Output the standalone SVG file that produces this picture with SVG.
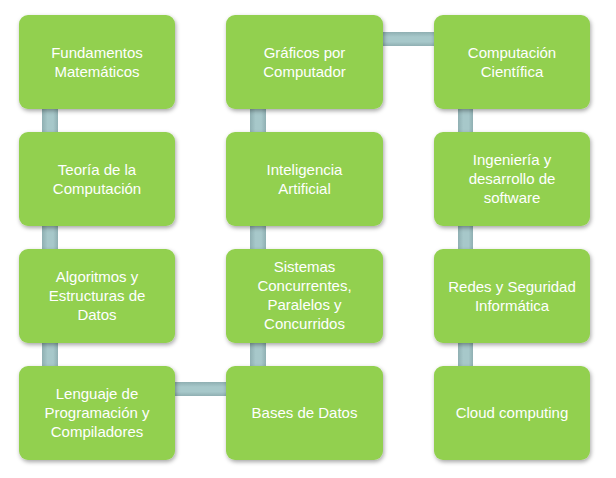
<svg xmlns="http://www.w3.org/2000/svg" width="616" height="478" viewBox="0 0 616 478">
<defs>
<linearGradient id="gv" x1="0" y1="0" x2="1" y2="0">
<stop offset="0" stop-color="#8FAFB2"/><stop offset="0.35" stop-color="#A7C8CA"/><stop offset="0.7" stop-color="#A7C8CA"/><stop offset="1" stop-color="#8FAFB2"/>
</linearGradient>
<linearGradient id="gh" x1="0" y1="0" x2="0" y2="1">
<stop offset="0" stop-color="#8FAFB2"/><stop offset="0.35" stop-color="#A7C8CA"/><stop offset="0.7" stop-color="#A7C8CA"/><stop offset="1" stop-color="#8FAFB2"/>
</linearGradient>
<filter id="sh" x="-10%" y="-10%" width="125%" height="130%">
<feDropShadow dx="1" dy="2" stdDeviation="2" flood-color="#000" flood-opacity="0.35"/>
</filter>
</defs>
<style>
.box{fill:#92D050;filter:url(#sh)}
.t{font-family:"Liberation Sans",Arial,sans-serif;font-size:15px;fill:#fff;text-anchor:middle}
</style>
<g id="connectors">
<rect x="42" y="105" width="16" height="30" fill="url(#gv)"/>
<rect x="42" y="222" width="16" height="30" fill="url(#gv)"/>
<rect x="42" y="339" width="16" height="30" fill="url(#gv)"/>
<rect x="172" y="382" width="57" height="14" fill="url(#gh)"/>
<rect x="250" y="339" width="16" height="30" fill="url(#gv)"/>
<rect x="250" y="222" width="16" height="30" fill="url(#gv)"/>
<rect x="250" y="105" width="16" height="30" fill="url(#gv)"/>
<rect x="380" y="32" width="57" height="14" fill="url(#gh)"/>
<rect x="458" y="105" width="15" height="30" fill="url(#gv)"/>
<rect x="458" y="222" width="15" height="30" fill="url(#gv)"/>
<rect x="458" y="339" width="15" height="30" fill="url(#gv)"/>
</g>
<g id="n1"><rect class="box" x="19" y="15" width="156" height="94" rx="9"/>
<text class="t" x="97" y="57.5">Fundamentos</text><text class="t" x="97" y="76.5">Matemáticos</text></g>
<g id="n2"><rect class="box" x="19" y="132" width="156" height="94" rx="9"/>
<text class="t" x="97" y="174.5">Teoría de la</text><text class="t" x="97" y="193.5">Computación</text></g>
<g id="n3"><rect class="box" x="19" y="249" width="156" height="94" rx="9"/>
<text class="t" x="97" y="282">Algoritmos y</text><text class="t" x="97" y="301">Estructuras de</text><text class="t" x="97" y="320">Datos</text></g>
<g id="n4"><rect class="box" x="19" y="366" width="156" height="94" rx="9"/>
<text class="t" x="97" y="399">Lenguaje de</text><text class="t" x="97" y="418">Programación y</text><text class="t" x="97" y="437">Compiladores</text></g>
<g id="n5"><rect class="box" x="226" y="366" width="157" height="94" rx="9"/>
<text class="t" x="304.5" y="418">Bases de Datos</text></g>
<g id="n6"><rect class="box" x="226" y="249" width="157" height="94" rx="9"/>
<text class="t" x="304.5" y="272">Sistemas</text><text class="t" x="304.5" y="291">Concurrentes,</text><text class="t" x="304.5" y="310">Paralelos y</text><text class="t" x="304.5" y="329">Concurridos</text></g>
<g id="n7"><rect class="box" x="226" y="132" width="157" height="94" rx="9"/>
<text class="t" x="304.5" y="174.5">Inteligencia</text><text class="t" x="304.5" y="193.5">Artificial</text></g>
<g id="n8"><rect class="box" x="226" y="15" width="157" height="94" rx="9"/>
<text class="t" x="304.5" y="57.5">Gráficos por</text><text class="t" x="304.5" y="76.5">Computador</text></g>
<g id="n9"><rect class="box" x="434" y="15" width="156" height="94" rx="9"/>
<text class="t" x="512" y="57.5">Computación</text><text class="t" x="512" y="76.5">Científica</text></g>
<g id="n10"><rect class="box" x="434" y="132" width="156" height="94" rx="9"/>
<text class="t" x="512" y="165">Ingeniería y</text><text class="t" x="512" y="184">desarrollo de</text><text class="t" x="512" y="203">software</text></g>
<g id="n11"><rect class="box" x="434" y="249" width="156" height="94" rx="9"/>
<text class="t" x="512" y="291.5">Redes y Seguridad</text><text class="t" x="512" y="310.5">Informática</text></g>
<g id="n12"><rect class="box" x="434" y="366" width="156" height="94" rx="9"/>
<text class="t" x="512" y="418">Cloud computing</text></g>
</svg>
